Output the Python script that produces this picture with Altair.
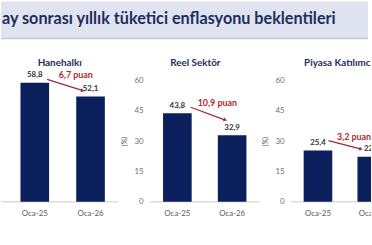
import altair as alt
import pandas as pd

# ---------------- data ----------------
header_title = ["12 ay sonrası yıllık tüketici enflasyonu beklentileri"]
panel_names = ["Hanehalkı", "Reel Sektör", "Piyasa Katılımcıları"]
periods = ["Oca-25", "Oca-26"]
hanehalki = [58.8, 52.1]
reel_sektor = [43.8, 32.9]
piyasa = [25.4, 22.2]
change_labels = ["6,7 puan", "10,9 puan", "3,2 puan"]
y_ticks = [0, 15, 30, 45, 60]

FONT = "Lato"
NAVY = "#0b1f5c"
TITLE_NAVY = "#1f2d5b"
RED = "#b3272d"
ARROW = "#9e2a3a"
GRAY = "#595959"
TOP = 23      # title zone inside each view
PLOT_H = 123  # plot zone
BOTTOM = 18   # label zone


def fmt(v):
    return f"{v:.1f}".replace(".", ",")


def panel(name, values, change, width, with_axis, title_dx,
          text_dx, text_dy, a_start, a_end, angle, xrange):
    df = pd.DataFrame({"period": periods, "value": values,
                       "label": [fmt(v) for v in values],
                       "zero": [0, 0], "top": [60, 60],
                       "name": [name, name]})
    arr = pd.DataFrame({"p1": [periods[0]], "p2": [periods[1]],
                        "v1": [values[0]], "v2": [values[1]],
                        "change": [change]})

    xscale = alt.Scale(domain=periods, paddingInner=0, paddingOuter=0, range=xrange)
    yscale = alt.Scale(domain=[0, 60], nice=False, zero=True,
                       range=[TOP + PLOT_H, TOP])
    if with_axis:
        yaxis = alt.Axis(values=y_ticks, title="(%)", grid=False, domain=False,
                         ticks=False, labelFont=FONT, labelFontSize=8,
                         labelColor="#6f6f6f", labelPadding=7, titleFont=FONT,
                         titleFontSize=7, titleFontWeight="normal",
                         titleColor=GRAY, titlePadding=7)
    else:
        yaxis = None

    def X(f):
        return alt.X(f, scale=xscale, axis=None, sort=periods)

    def Y(f):
        return alt.Y(f, scale=yscale, axis=yaxis)

    base = alt.Chart(df)
    baseline = base.mark_rule(color="#d9d9d9", strokeWidth=1).encode(
        y=Y("zero:Q"))
    bars = base.mark_bar(color=NAVY, size=29, clip=True).encode(
        x=X("period:N"), y=Y("value:Q"))
    labels = base.mark_text(font=FONT, fontSize=8, fontWeight="bold",
                            color="#333333", dy=-7.5, baseline="middle",
                            clip=True).encode(
        x=X("period:N"), y=Y("value:Q"), text="label:N")
    xlabels = base.mark_text(font=FONT, fontSize=8, color=GRAY, dy=12,
                             baseline="middle", clip=True).encode(
        x=X("period:N"), y=Y("zero:Q"), text="period:N")
    title = base.mark_text(
        font=FONT, fontSize=10, fontWeight="bold", color=TITLE_NAVY,
        baseline="alphabetic", align="center", dy=-15, clip=True,
    ).encode(x=alt.value(title_dx), y=Y("top:Q"), text="name:N"
             ).transform_filter(alt.datum.period == periods[0])

    ab = alt.Chart(arr)
    rule = ab.mark_rule(color=ARROW, strokeWidth=1.3,
                        xOffset=a_start[0], yOffset=a_start[1],
                        x2Offset=a_end[0], y2Offset=a_end[1]).encode(
        x=X("p1:N"), x2="p2:N", y=Y("v1:Q"), y2="v2:Q")
    head = ab.mark_point(shape="triangle", filled=True, color=ARROW, size=16,
                         opacity=1, angle=angle,
                         xOffset=a_end[0], yOffset=a_end[1]).encode(
        x=X("p2:N"), y=Y("v2:Q"))
    ctext = ab.mark_text(font=FONT, fontSize=9, fontWeight="bold", color=RED,
                         dx=text_dx, dy=text_dy, baseline="middle",
                         clip=True).encode(
        x=X("p1:N"), y=Y("v1:Q"), text="change:N")

    return alt.layer(baseline, bars, labels, xlabels, rule, head, ctext, title).properties(
        width=width, height=TOP + PLOT_H + BOTTOM)


p1 = panel(panel_names[0], hanehalki, change_labels[0], 119, False, 59.5,
           41.5, -8, (12.5, -3.5), (-8.5, -6), 107, [6, 119])
p2 = panel(panel_names[1], reel_sektor, change_labels[1], 111, True, 46,
           40.5, -10.7, (13.5, -6), (-7.5, -15.6), 110, [0, 111])
p3 = panel(panel_names[2], piyasa, change_labels[2], 81, True, 55,
           36.5, -13.3, (10.5, -10), (-11.5, -8), 104, [0, 109])

row = alt.hconcat(p1, p2, p3, spacing=0)

hdf = pd.DataFrame({"t": header_title})
header_text = alt.Chart(hdf).mark_text(
    font=FONT, fontSize=16.4, fontWeight="bold", color=TITLE_NAVY,
    align="left", baseline="alphabetic", clip=True,
).encode(x=alt.value(-22), y=alt.value(23), text="t:N")
header_line = alt.Chart(hdf).mark_rule(color="#c5cad6", strokeWidth=1.5).encode(
    x=alt.value(0), x2=alt.value(372), y=alt.value(37.5))
header = alt.layer(header_text, header_line).properties(
    width=372, height=38,
    view=alt.ViewBackground(fill="#dfe4f0", stroke=None),
)

chart = alt.vconcat(header, row, spacing=18).properties(
    padding=0, background="white"
).configure_view(stroke=None).configure_concat(spacing=0)

chart.save("out.html", embed_options={"renderer": "svg", "actions": False})
